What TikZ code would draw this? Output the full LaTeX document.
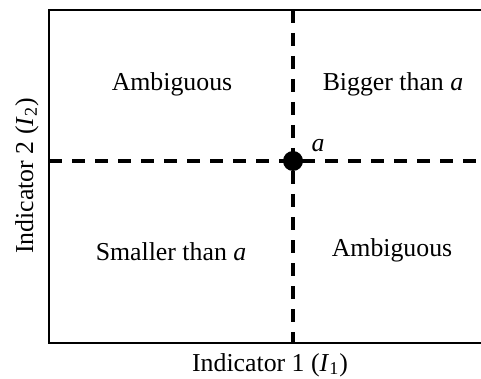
\documentclass[tikz,border=0pt]{standalone}
\usepackage{fontspec}
\setmainfont{Liberation Serif}
\usetikzlibrary{positioning}

\begin{document}
\begin{tikzpicture}[
    x=0.5pt, y=-0.5pt,
    region/.style={font=\fontsize{12.9}{15}\selectfont, inner sep=0pt},
    axislabel/.style={font=\fontsize{12.9}{15}\selectfont, inner sep=0pt},
    frame/.style={line width=1.4pt},
    divider/.style={line width=2pt, dash pattern=on 6.5pt off 5pt},
    point/.style={circle, fill=black, inner sep=0pt, minimum size=10pt}
]
\useasboundingbox (0,0) rectangle (481,379);

% frame corners (the right side runs past the page)
\coordinate (nw) at (49,10);
\coordinate (sw) at (49,343);
\coordinate (ne) at (481,10);
\coordinate (se) at (481,343);
\coordinate (top) at (293,10);
\coordinate (bot) at (293,343);
\coordinate (left) at (49,161);
\coordinate (right) at (481,161);

\draw[frame] (ne) -- (nw) -- (sw) -- (se);
\draw[divider] (top) -- (bot);
\draw[divider] (left) -- (right);

\node[point] (pt) at (293,161) {};
\node[region] (alabel) at (318,146) {\textit{a}};

\node[region] (ambig1) at (172,84) {Ambiguous};
\node[region] (bigger) at (393,84) {Bigger than \textit{a}};
\node[region] (smaller) at (171,252) {Smaller than \textit{a}};
\node[region] (ambig2) at (392,250) {Ambiguous};

\node[axislabel] (xlab) at (270,365) {Indicator 1 (\textit{I}\textsubscript{1})};
\node[axislabel, rotate=90] (ylab) at (27,176) {Indicator 2 (\textit{I}\textsubscript{2})};
\end{tikzpicture}
\end{document}
